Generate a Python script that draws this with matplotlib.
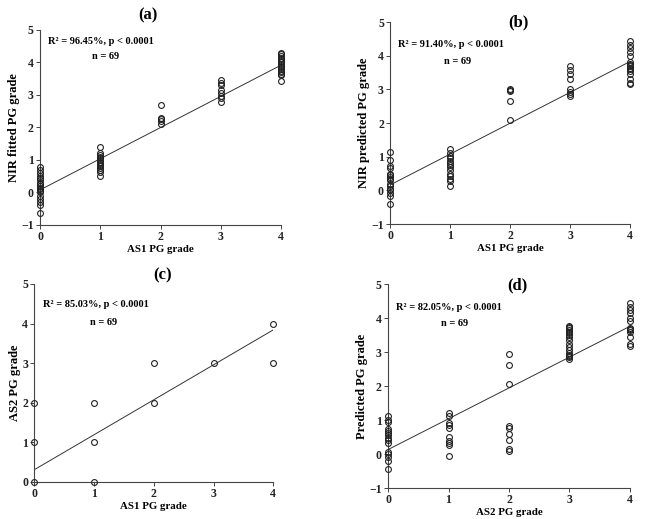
import numpy as np
import matplotlib
matplotlib.use("Agg")
import matplotlib.pyplot as plt

plt.rcParams['font.family'] = ['Liberation Serif', 'DejaVu Serif']
plt.rcParams['font.weight'] = 'bold'

# (a) NIR fitted vs AS1
a_x0 = [0.78, 0.68, 0.6, 0.52, 0.45, 0.38, 0.3, 0.25, 0.2, 0.15, 0.1, 0.05, 0.0, -0.1, -0.2, -0.3, -0.4, -0.62]
a_x1 = [1.4, 1.2, 1.15, 1.1, 1.05, 1.0, 0.95, 0.9, 0.85, 0.8, 0.75, 0.7, 0.62, 0.5]
a_x2 = [2.68, 2.3, 2.25, 2.2, 2.12]
a_x3 = [3.45, 3.38, 3.3, 3.15, 3.05, 2.98, 2.9, 2.78]
a_x4 = [4.3, 4.25, 4.2, 4.15, 4.1, 4.05, 4.0, 3.95, 3.9, 3.85, 3.8, 3.75, 3.7, 3.65, 3.62, 3.42]

# (b) NIR predicted vs AS1
b_x0 = [1.13, 0.9, 0.72, 0.65, 0.5, 0.45, 0.4, 0.35, 0.3, 0.2, 0.12, 0.05, 0.0, -0.08, -0.18, -0.42]
b_x1 = [1.22, 1.12, 1.02, 0.95, 0.88, 0.8, 0.75, 0.68, 0.6, 0.5, 0.42, 0.35, 0.28, 0.12]
b_x2 = [3.0, 2.97, 2.94, 2.65, 2.08]
b_x3 = [3.68, 3.57, 3.47, 3.3, 3.0, 2.93, 2.86, 2.8]
b_x4 = [4.43, 4.32, 4.22, 4.12, 4.0, 3.82, 3.76, 3.72, 3.68, 3.64, 3.6, 3.55, 3.45, 3.3, 3.2, 3.15]

# (c) AS2 vs AS1
c_as1 = [0, 0, 0, 1, 1, 1, 2, 2, 3, 4, 4]
c_as2 = [2, 1, 0, 2, 1, 0, 3, 2, 3, 4, 3]

# (d) predicted vs AS2
d_x0 = [1.13, 1.0, 0.95, 0.75, 0.68, 0.62, 0.55, 0.48, 0.4, 0.32, 0.05, 0.0, -0.1, -0.2, -0.43]
d_x1 = [1.22, 1.12, 0.92, 0.85, 0.78, 0.5, 0.38, 0.33, 0.28, -0.05]
d_x2 = [2.95, 2.63, 2.07, 0.82, 0.78, 0.58, 0.4, 0.15, 0.08]
d_x3 = [3.78, 3.74, 3.7, 3.65, 3.6, 3.55, 3.5, 3.45, 3.35, 3.25, 3.15, 3.05, 2.98, 2.92, 2.88, 2.84, 2.8]
d_x4 = [4.43, 4.33, 4.23, 4.15, 4.0, 3.9, 3.7, 3.67, 3.64, 3.6, 3.45, 3.25, 3.17]

# fitted lines: intercept, slope
fit_a = (0.08, 0.96)
fit_b = (0.16, 0.917)
fit_c = (0.31, 0.883)
fit_d = (0.13, 0.907)

titles = ["(a)", "(b)", "(c)", "(d)"]
r2_text = ["96.45%", "91.40%", "85.03%", "82.05%"]
xlabels = ["AS1 PG grade", "AS1 PG grade", "AS1 PG grade", "AS2 PG grade"]
ylabels = ["NIR fitted PG grade", "NIR predicted PG grade", "AS2 PG grade", "Predicted PG grade"]


def groups_to_xy(groups):
    xs, ys = [], []
    for g, vals in enumerate(groups):
        xs += [g] * len(vals)
        ys += list(vals)
    return np.array(xs), np.array(ys)


panels = [
    groups_to_xy([a_x0, a_x1, a_x2, a_x3, a_x4]),
    groups_to_xy([b_x0, b_x1, b_x2, b_x3, b_x4]),
    (np.array(c_as1), np.array(c_as2)),
    groups_to_xy([d_x0, d_x1, d_x2, d_x3, d_x4]),
]
fits = [fit_a, fit_b, fit_c, fit_d]
ylims = [(-1, 5), (-1, 5), (0, 5), (-1, 5)]

# axes rectangles (figure fractions) and text placement
rects = [
    [0.062, 0.5665, 0.3725, 0.3757],
    [0.603, 0.5684, 0.371, 0.3892],
    [0.053, 0.0713, 0.3694, 0.3815],
    [0.5997, 0.0597, 0.374, 0.393],
]
r2_pos = [(0.13, 4.66), (0.13, 4.32), (0.15, 4.47), (0.13, 4.32)]
n_pos = [(1.08, 4.17), (1.13, 3.84), (1.16, 4.04), (1.1, 3.85)]
title_pos = [(148, 15), (518, 22), (163, 275), (517, 285)]

fig = plt.figure(figsize=(6.47, 5.19), dpi=100)
for i in range(4):
    ax = fig.add_axes(rects[i])
    x, y = panels[i]
    ax.plot(x, y, 'o', mfc='none', mec='#222222', ms=4.2, mew=0.8, clip_on=False, zorder=3)
    b0, b1 = fits[i]
    xl = np.array([0, 4])
    ax.plot(xl, b0 + b1 * xl, color='#333333', lw=0.7)
    ax.set_xlim(0, 4)
    ax.set_ylim(*ylims[i])
    ax.set_xticks(range(5))
    ax.set_yticks(range(ylims[i][0], 6))
    for s in ['top', 'right']:
        ax.spines[s].set_visible(False)
    for s in ['left', 'bottom']:
        ax.spines[s].set_linewidth(0.8)
        ax.spines[s].set_color('#444444')
    ax.tick_params(direction='out', length=3, width=0.7, colors='#444444',
                   labelcolor='#222222', labelsize=8.5, pad=1.5)
    for lab in ax.get_xticklabels() + ax.get_yticklabels():
        lab.set_fontweight('bold')
    ax.set_xlabel(xlabels[i], fontsize=7.8, fontweight='bold', labelpad=1)
    ax.set_ylabel(ylabels[i], fontsize=9, fontweight='bold', labelpad=1)
    ax.text(r2_pos[i][0], r2_pos[i][1],
            "R\u00b2 = " + r2_text[i] + ", p < 0.0001",
            fontsize=7.5, fontweight='bold', va='center', ha='left')
    ax.text(n_pos[i][0], n_pos[i][1], "n = 69", fontsize=7.5,
            fontweight='bold', va='center', ha='center')
    fig.text(title_pos[i][0] / 647, 1 - title_pos[i][1] / 519, titles[i],
             fontsize=12, fontweight='bold', ha='center', va='center')

fig.savefig("out.png", dpi=100)
